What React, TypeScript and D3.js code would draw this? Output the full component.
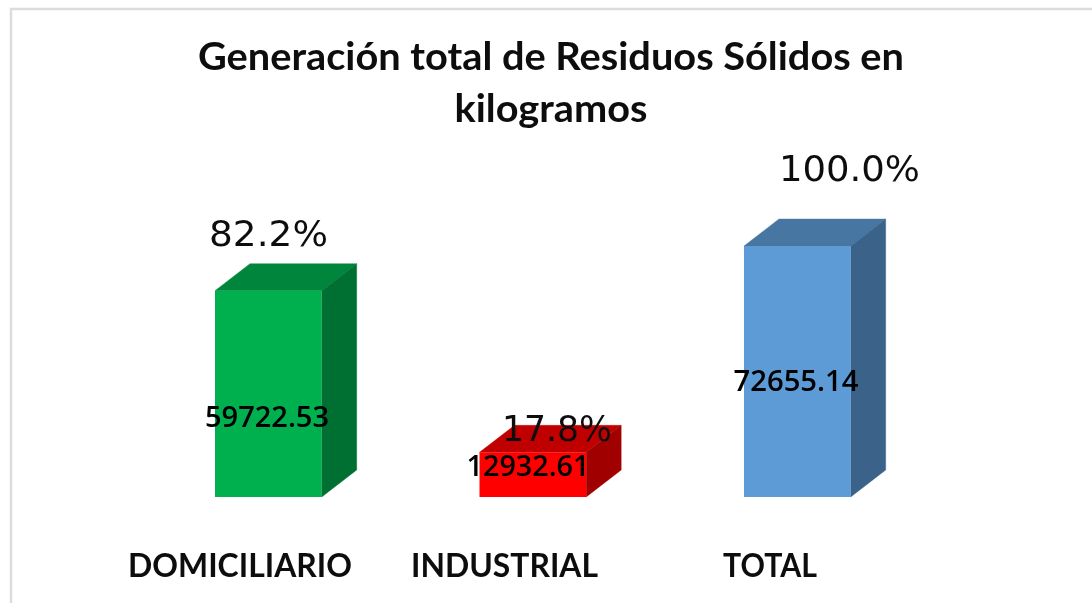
import React from "react";
import * as d3 from "d3";

const categories = ["DOMICILIARIO", "INDUSTRIAL", "TOTAL"];
const values = [59722.53, 12932.61, 72655.14];
const valueLabels = ["59722.53", "12932.61", "72655.14"];
const percentLabels = ["82.2%", "17.8%", "100.0%"];
const frontColors = ["#00b050", "#ff0000", "#5b9bd5"];
const topColors = ["#00853c", "#c00000", "#4676a2"];
const sideColors = ["#006f32", "#a00000", "#3a6389"];
const titleLines = ["Generación total de Residuos Sólidos en", "kilogramos"];

const titleWidths = [706, 193];
const barLeft = [215, 479.5, 744];
const catX = [240, 504.5, 770];
const catWidths = [224, 187, 94];
const valX = [267, 528, 796];
const valY = [427, 476, 391];
const valWidths = [124, 123, 125];
const pctX = [268.5, 557, 849.5];
const pctY = [246, 441, 181];
const pctWidths = [119, 110, 141];

export default function App() {
  const y = d3.scaleLinear().domain([0, 72655.14]).range([497, 246]);
  const barW = 106.7, dx = 35, dy = 27;
  return (
    <svg width={1092} height={603} style={{ position: "absolute", left: 0, top: 0, background: "#fff" }}>
      <defs>
        <filter id="soft" x="-5%" y="-5%" width="110%" height="110%">
          <feGaussianBlur stdDeviation="0.45" />
        </filter>
      </defs>
      <g filter="url(#soft)">
        <path d="M11 603V9H1092" fill="none" stroke="#dcdcdc" strokeWidth={2.5} />
        {titleLines.map((t, i) => (
          <text key={t} x={551} y={70 + i * 52} textAnchor="middle" fontFamily="Lato" fontWeight={700} fontSize={39} fill="#0d0d0d" textLength={titleWidths[i]} lengthAdjust="spacingAndGlyphs">{t}</text>
        ))}
        {values.map((v, i) => {
          const x0 = barLeft[i], x1 = x0 + barW, t = y(v), b = y(0);
          return (
            <g key={categories[i]}>
              <path d={`M${x0} ${t}L${x0 + dx} ${t - dy}H${x1 + dx}L${x1} ${t}Z`} fill={topColors[i]} stroke={topColors[i]} strokeWidth={0.4} />
              <path d={`M${x1} ${t}L${x1 + dx} ${t - dy}V${b - dy}L${x1} ${b}Z`} fill={sideColors[i]} stroke={sideColors[i]} strokeWidth={0.4} />
              <rect x={x0} y={t} width={barW} height={b - t} fill={frontColors[i]} />
            </g>
          );
        })}
        {values.map((_, i) => (
          <g key={i}>
            <text x={pctX[i]} y={pctY[i]} textAnchor="middle" fontFamily="DejaVu Sans" fontSize={35.5} fill="#111" textLength={pctWidths[i]} lengthAdjust="spacingAndGlyphs">{percentLabels[i]}</text>
            <text x={valX[i]} y={valY[i]} textAnchor="middle" fontFamily="Open Sans" fontWeight={600} fontSize={29} fill="#000" textLength={valWidths[i]} lengthAdjust="spacingAndGlyphs">{valueLabels[i]}</text>
            <text x={catX[i]} y={577} textAnchor="middle" fontFamily="Lato" fontWeight={700} fontSize={33} fill="#0d0d0d" textLength={catWidths[i]} lengthAdjust="spacingAndGlyphs">{categories[i]}</text>
          </g>
        ))}
      </g>
    </svg>
  );
}
